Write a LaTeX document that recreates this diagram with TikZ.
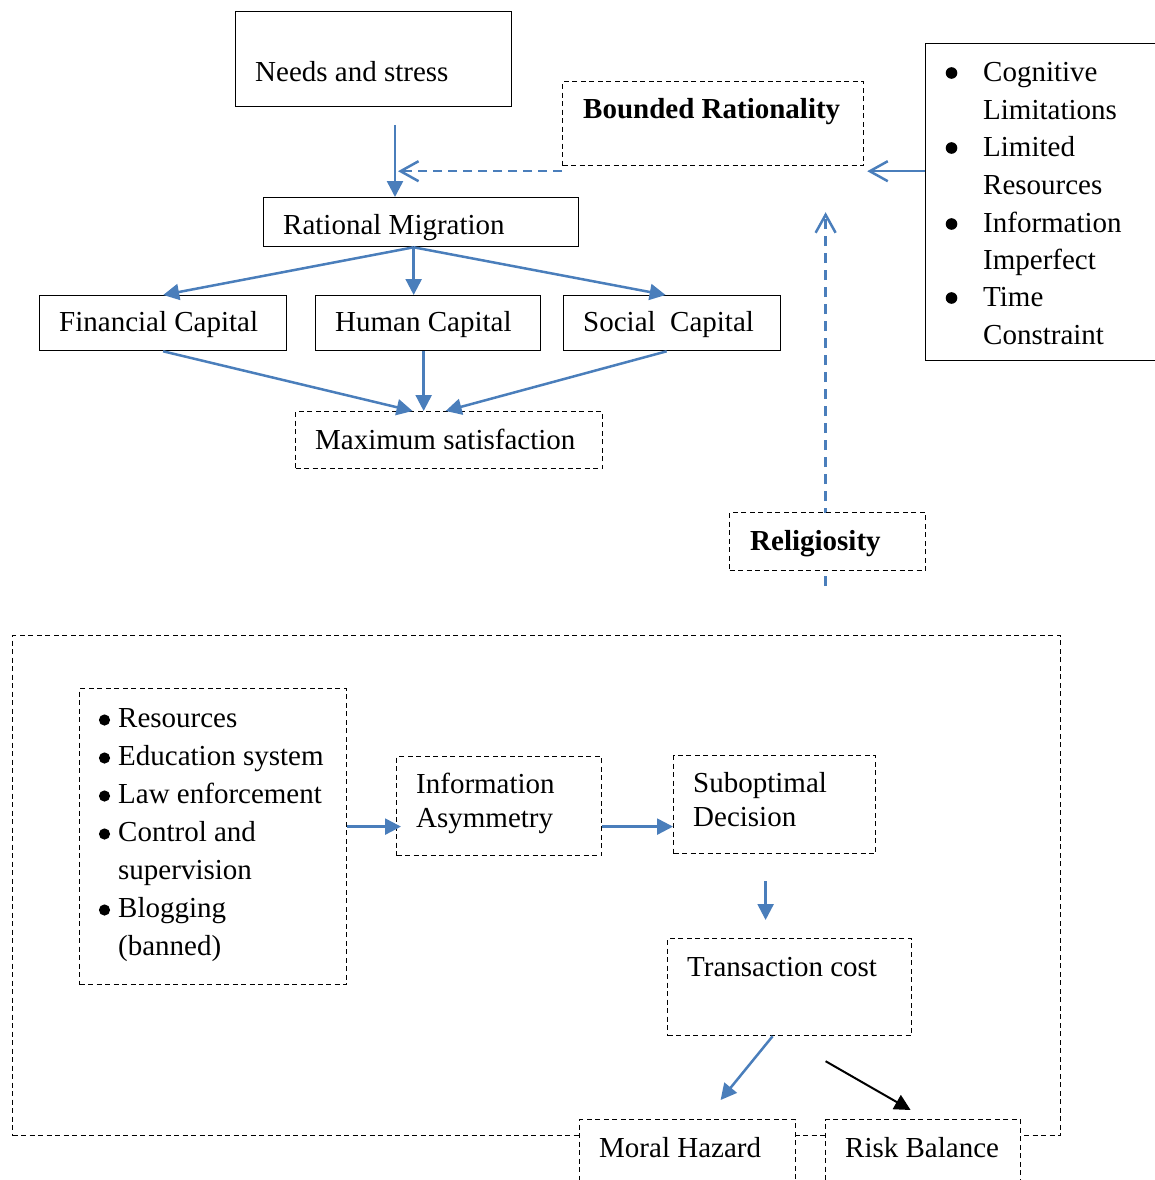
\documentclass[tikz,border=0pt]{standalone}
\usepackage{fontspec}
\setmainfont{Liberation Serif}
\usetikzlibrary{arrows.meta,backgrounds}

\definecolor{wordblue}{RGB}{74,126,187}
\newcommand{\txtlines}[1]{\begin{tabular}[t]{@{}l@{}}#1\end{tabular}}

\tikzset{
  solidbox/.style={draw,line width=1.3pt,inner sep=0pt,anchor=north west},
  dashbox/.style={draw,line width=1.2pt,dash pattern=on 5pt off 3.5pt,inner sep=0pt,anchor=north west,fill=white},
  txt/.style={inner sep=0pt,anchor=base west,font=\fontsize{29}{37.5}\selectfont},
  flow/.style={wordblue,line width=2.5pt,-{Triangle[length=16pt,width=16pt]}},
  hint/.style={wordblue,line width=2.5pt,-{Straight Barb[length=18pt,width=20pt]}},
}

\begin{document}
\begin{tikzpicture}[x=1pt,y=-1pt]
  \clip (0,0) rectangle (1155,1180);
  % upper part
  \node[solidbox,minimum width=276pt,minimum height=95pt] (needs) at (235,11) {};
  \node[txt] (needs-t) at (255,82) {Needs and stress};
  \node[dashbox,minimum width=301pt,minimum height=84pt] (bound) at (562,81) {};
  \node[txt] (bound-t) at (583,119) {\textbf{Bounded Rationality}};
  \node[solidbox,minimum width=280pt,minimum height=317pt] (limits) at (925,43) {};
  \node[txt] (limits-t) at (983,82) {\txtlines{Cognitive\\Limitations\\Limited\\Resources\\Information\\Imperfect\\Time\\Constraint}};
  \foreach \y in {73,148,224,298}
    \fill (951.5,\y) circle[radius=5.8pt];
  \node[solidbox,minimum width=315pt,minimum height=49pt] (migr) at (263,197) {};
  \node[txt] (migr-t) at (283,234) {Rational Migration};
  \node[solidbox,minimum width=247pt,minimum height=55pt] (fin) at (39,295) {};
  \node[txt] (fin-t) at (59,331) {Financial Capital};
  \node[solidbox,minimum width=225pt,minimum height=55pt] (hum) at (315,295) {};
  \node[txt] (hum-t) at (335,331) {Human Capital};
  \node[solidbox,minimum width=217pt,minimum height=55pt] (soc) at (563,295) {};
  \node[txt] (soc-t) at (583,331) {Social~~Capital};
  \node[dashbox,minimum width=307pt,minimum height=57pt] (max) at (295,411) {};
  \node[txt] (max-t) at (315,449) {Maximum satisfaction};
  \node[dashbox,minimum width=196pt,minimum height=58pt] (relig) at (729,512) {};
  \node[txt] (relig-t) at (750,550) {\textbf{Religiosity}};

  \coordinate (needs-out) at (395,125);
  \coordinate (bound-out) at ([yshift=-5pt]bound.south west);
  \coordinate (migr-out) at ([xshift=-7.5pt]migr.south);
  \coordinate (relig-tip) at ([yshift=-46pt]bound.south);

  \draw[flow] (needs-out) -- (needs-out |- migr.north);
  \draw[hint,dash pattern=on 9pt off 6pt] (bound-out) -- ([xshift=3pt]needs-out |- bound-out);
  \draw[hint] (limits.west |- bound-out) -- ([xshift=3pt]bound.south east |- bound-out);
  \draw[flow] (migr-out) -- (fin.north);
  \draw[flow] (migr-out) -- (migr-out |- hum.north);
  \draw[flow] (migr-out) -- ([xshift=-6.5pt]soc.north);
  \draw[flow] (fin.south) -- ([xshift=-36.5pt]max.north);
  \draw[flow] ([xshift=-4.5pt]hum.south) -- ([xshift=-4.5pt]hum.south |- max.north);
  \draw[flow] ([xshift=-5.5pt]soc.south) -- ([xshift=-3.5pt]max.north);
  \begin{scope}[on background layer]
    \draw[hint,dash pattern=on 10pt off 7pt] ([xshift=-2pt,yshift=-15pt]relig.south) -- ([xshift=-2pt]relig.south |- relig-tip);
  \end{scope}

  % lower part
  \node[dashbox,fill=none,minimum width=1048pt,minimum height=500pt] (inst) at (12,635) {};
  \node[dashbox,minimum width=267pt,minimum height=296pt] (list) at (79,688) {};
  \node[txt,font=\fontsize{29}{38}\selectfont] (list-t) at (118,727) {\txtlines{Resources\\Education system\\Law enforcement\\Control and\\supervision\\Blogging\\(banned)}};
  \foreach \y in {720,758,796,834,910}
    \fill (104.5,\y) circle[radius=5.6pt];
  \node[dashbox,minimum width=205pt,minimum height=99pt] (info) at (396,756) {};
  \node[txt,font=\fontsize{29}{34}\selectfont] (info-t) at (416,793) {\txtlines{Information\\Asymmetry}};
  \node[dashbox,minimum width=202pt,minimum height=98pt] (sub) at (673,755) {};
  \node[txt,font=\fontsize{29}{34}\selectfont] (sub-t) at (693,792) {\txtlines{Suboptimal\\Decision}};
  \node[dashbox,minimum width=244pt,minimum height=97pt] (trans) at (667,938) {};
  \node[txt] (trans-t) at (687,976) {Transaction cost};
  \node[dashbox,minimum width=216pt,minimum height=90pt] (moral) at (579,1119) {};
  \node[txt] (moral-t) at (599,1157) {Moral Hazard};
  \node[dashbox,minimum width=195pt,minimum height=90pt] (risk) at (825,1119) {};
  \node[txt] (risk-t) at (845,1157) {Risk Balance};

  \draw[flow] ([yshift=10pt]list.east) -- ([xshift=5pt,yshift=-20.5pt]info.west);
  \draw[flow] ([yshift=-20.5pt]info.east) -- ([yshift=-22pt]sub.west);
  \draw[flow] ([xshift=-9pt,yshift=-27pt]sub.south) -- ([xshift=-24pt,yshift=18pt]trans.north);
  \draw[flow] ([xshift=-17pt]trans.south) -- ([xshift=33pt,yshift=19pt]moral.north);
  \draw[flow,black,line width=2pt] ([xshift=36pt,yshift=-25pt]trans.south) -- ([xshift=-12.5pt,yshift=9pt]risk.north);
\end{tikzpicture}
\end{document}
